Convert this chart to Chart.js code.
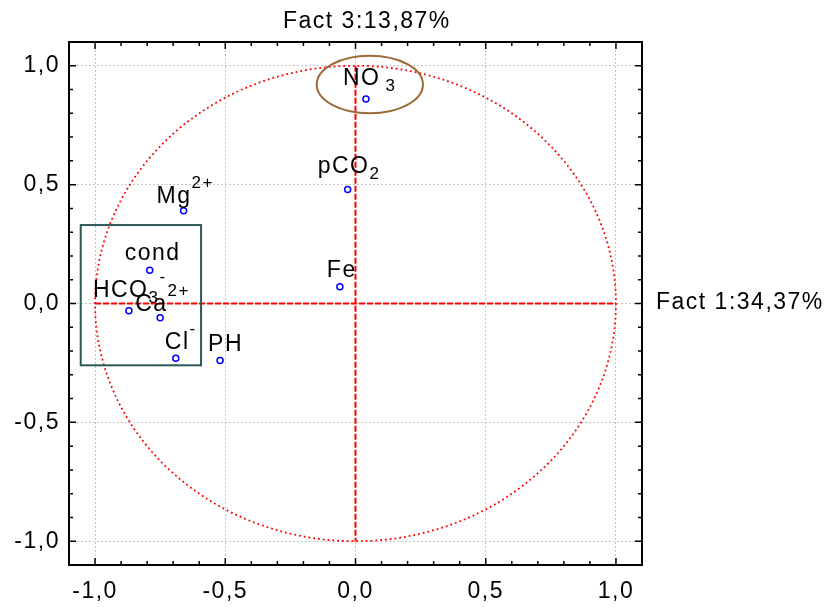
<!DOCTYPE html>
<html>
<head>
<meta charset="utf-8">
<title>Fact 1 x Fact 3</title>
<script src="https://cdn.jsdelivr.net/npm/chart.js@4.4.1/dist/chart.umd.min.js"></script>
<style>
    body { margin : 0; background : #fff; }
</style>
</head>
<body>
<canvas id="myChart" width="825" height="607"></canvas>
<script>
// loadings
let variableNames = ["NO3-", "pCO2", "Mg2+", "cond", "Fe", "HCO3-", "Ca2+", "Cl-", "PH"];
let fact1Values = [0.04, -0.03, -0.66, -0.79, -0.06, -0.87, -0.75, -0.69, -0.52];
let fact3Values = [0.86, 0.48, 0.39, 0.14, 0.07, -0.03, -0.06, -0.23, -0.24];
let tickValues = [-1.0, -0.5, 0.0, 0.5, 1.0];
let xTitle = "Fact 1:34,37%";
let yTitle = "Fact 3:13,87%";

let fontName = "'Liberation Sans', Arial, sans-serif";

// how each name is written (normal / sub / sup)
let labelParts = {
    "NO3-" : [["NO", ""], ["3", "sub", 5]],
    "pCO2" : [["pCO", ""], ["2", "sub"]],
    "Mg2+" : [["Mg", ""], ["2+", "sup"]],
    "cond" : [["cond", ""]],
    "Fe" : [["Fe", ""]],
    "HCO3-" : [["HCO", ""], ["3", "sub"], ["-", "sup"]],
    "Ca2+" : [["Ca", ""], ["2+", "sup"]],
    "Cl-" : [["Cl", ""], ["-", "sup"]],
    "PH" : [["PH", ""]]
};
// label left / baseline relative to the point, in pixels
let labelShift = {
    "NO3-" : [-23, -14], "pCO2" : [-30, -16], "Mg2+" : [-27, -8],
    "cond" : [-25, -10], "Fe" : [-13, -10], "HCO3-" : [-36, -14],
    "Ca2+" : [-25, -7], "Cl-" : [-11, -9], "PH" : [-12, -10]
};

let points = fact1Values.map(function (v, i) {
    return {x : v, y : fact3Values[i]};
});

function fmt(v) {
    return v.toFixed(1).replace(".", ",");
}

let decorPlugin = {
    id : "decor",
    beforeDraw : function (chart) {
        chart.ctx.letterSpacing = "1.5px";
    },
    beforeDatasetsDraw : function (chart) {
        let ctx = chart.ctx;
        let xs = chart.scales.x, ys = chart.scales.y;
        let x0 = xs.getPixelForValue(0), y0 = ys.getPixelForValue(0);
        ctx.save();

        // unit circle
        ctx.strokeStyle = "#ff0000";
        ctx.lineWidth = 1.8;
        ctx.setLineDash([1.8, 3]);
        ctx.beginPath();
        ctx.ellipse(x0, y0, xs.getPixelForValue(1) - x0, y0 - ys.getPixelForValue(1), 0, 0, Math.PI * 2);
        ctx.stroke();

        // axes through the origin
        ctx.lineWidth = 2;
        ctx.setLineDash([6, 2]);
        ctx.beginPath();
        ctx.moveTo(xs.getPixelForValue(-1), y0);
        ctx.lineTo(xs.getPixelForValue(1), y0);
        ctx.moveTo(x0, ys.getPixelForValue(1));
        ctx.lineTo(x0, ys.getPixelForValue(-1));
        ctx.stroke();

        // box round the cations / anions group
        ctx.setLineDash([]);
        ctx.strokeStyle = "#2b5a55";
        ctx.lineWidth = 2;
        let bx1 = xs.getPixelForValue(-1.055), bx2 = xs.getPixelForValue(-0.593);
        let by1 = ys.getPixelForValue(0.33), by2 = ys.getPixelForValue(-0.26);
        ctx.strokeRect(bx1, by1, bx2 - bx1, by2 - by1);

        // ellipse round NO3
        ctx.strokeStyle = "#9c6a38";
        let ex = xs.getPixelForValue(0.055), ey = ys.getPixelForValue(0.921);
        ctx.beginPath();
        ctx.ellipse(ex, ey, xs.getPixelForValue(0.259) - ex, ey - ys.getPixelForValue(1.042), 0, 0, Math.PI * 2);
        ctx.stroke();
        ctx.restore();
    },
    afterDatasetsDraw : function (chart) {
        let ctx = chart.ctx;
        let meta = chart.getDatasetMeta(0);
        ctx.save();
        ctx.letterSpacing = "1.5px";
        ctx.fillStyle = "#000";
        ctx.textAlign = "left";
        ctx.textBaseline = "alphabetic";
        for (let i = 0; i < variableNames.length; i++) {
            let name = variableNames[i];
            let el = meta.data[i];
            let cx = el.x + labelShift[name][0];
            let cy = el.y + labelShift[name][1];
            labelParts[name].forEach(function (p) {
                if (p[1] == "sub") {
                    ctx.font = "17px " + fontName;
                    cx += (p[2] || 0);
                    ctx.fillText(p[0], cx, cy + 6);
                    cx += ctx.measureText(p[0]).width;
                } else if (p[1] == "sup") {
                    ctx.font = "17px " + fontName;
                    ctx.fillText(p[0], cx, cy - 15);
                    cx += ctx.measureText(p[0]).width;
                } else {
                    ctx.font = "23px " + fontName;
                    ctx.fillText(p[0], cx, cy);
                    cx += ctx.measureText(p[0]).width;
                }
            });
        }
        ctx.restore();
    },
    afterDraw : function (chart) {
        let ctx = chart.ctx;
        let a = chart.chartArea;
        let xs = chart.scales.x, ys = chart.scales.y;
        ctx.save();
        ctx.strokeStyle = "#000";
        ctx.lineWidth = 2;
        ctx.strokeRect(a.left, a.top, a.right - a.left, a.bottom - a.top);

        // inner tick marks every 0.1
        ctx.lineWidth = 1.5;
        ctx.beginPath();
        for (let i = -10; i <= 10; i++) {
            let len = (i % 5 == 0) ? 7 : 4;
            let px = xs.getPixelForValue(i / 10);
            let py = ys.getPixelForValue(i / 10);
            ctx.moveTo(px, a.bottom); ctx.lineTo(px, a.bottom - len);
            ctx.moveTo(px, a.top); ctx.lineTo(px, a.top + len);
            ctx.moveTo(a.left, py); ctx.lineTo(a.left + len, py);
            ctx.moveTo(a.right, py); ctx.lineTo(a.right - len, py);
        }
        ctx.stroke();

        // factor titles
        ctx.letterSpacing = "1.5px";
        ctx.fillStyle = "#000";
        ctx.font = "23px " + fontName;
        ctx.textAlign = "left";
        ctx.textBaseline = "alphabetic";
        ctx.fillText(yTitle, 283, 28);
        ctx.fillText(xTitle, 656, 309);
        ctx.restore();
    }
};

let myChart = document.getElementById("myChart").getContext("2d");
let factorChart = new Chart(myChart, {
    type : "scatter",
    data : {
        datasets : [{
            label : "loadings",
            data : points,
            pointStyle : "circle",
            pointRadius : 3,
            pointBorderWidth : 1.5,
            borderColor : "#0000ff",
            backgroundColor : "#ffffff"
        }]
    },
    options : {
        responsive : false,
        animation : false,
        layout : {
            padding : {top : 42, right : 183, left : 0, bottom : 0}
        },
        plugins : {
            legend : {display : false},
            tooltip : {enabled : false}
        },
        scales : {
            x : {
                type : "linear",
                min : -1.1,
                max : 1.1,
                afterBuildTicks : function (scale) {
                    scale.ticks = tickValues.map(function (v) { return {value : v}; });
                },
                afterFit : function (scale) {
                    scale.height = 42;
                },
                ticks : {
                    callback : fmt,
                    color : "#000",
                    padding : 13,
                    maxRotation : 0,
                    font : {family : fontName, size : 23}
                },
                grid : {color : "#c4c4c4", lineWidth : 1, drawTicks : false},
                border : {display : false, dash : [2, 2]}
            },
            y : {
                type : "linear",
                min : -1.1,
                max : 1.1,
                afterBuildTicks : function (scale) {
                    scale.ticks = tickValues.map(function (v) { return {value : v}; });
                },
                afterFit : function (scale) {
                    scale.width = 69;
                },
                ticks : {
                    callback : fmt,
                    color : "#000",
                    padding : 9,
                    font : {family : fontName, size : 23}
                },
                grid : {color : "#c4c4c4", lineWidth : 1, drawTicks : false},
                border : {display : false, dash : [2, 2]}
            }
        }
    },
    plugins : [decorPlugin]
});
</script>
</body>
</html>
